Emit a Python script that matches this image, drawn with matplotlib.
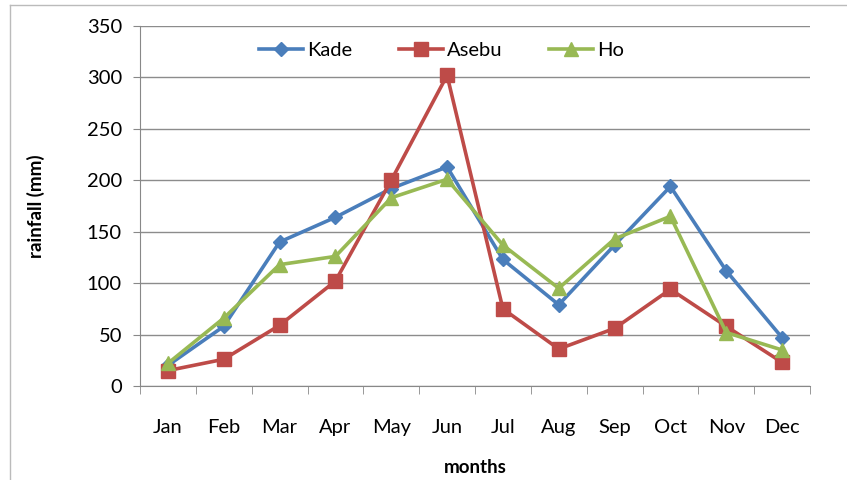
import matplotlib.pyplot as plt
import numpy as np

months = ['Jan', 'Feb', 'Mar', 'Apr', 'May', 'Jun', 'Jul', 'Aug', 'Sep', 'Oct', 'Nov', 'Dec']
kade = [20, 58, 140, 164, 192, 213, 123, 79, 137, 194, 112, 47]
asebu = [15, 26, 59, 102, 200, 302, 75, 36, 56, 94, 58, 23]
ho = [22, 66, 118, 126, 183, 201, 137, 95, 143, 165, 52, 35]

plt.rcParams['font.family'] = ['Lato', 'DejaVu Sans']

fig = plt.figure(figsize=(8.47, 4.8), dpi=100)
ax = fig.add_axes([140 / 847, 1 - 386 / 480, 670 / 847, 360 / 480])

x = np.arange(len(months))
ax.plot(x, kade, color='#4A7EBB', lw=2.6, marker='D', ms=7, label='Kade')
ax.plot(x, asebu, color='#BE4B48', lw=2.6, marker='s', ms=10, label='Asebu')
ax.plot(x, ho, color='#98B954', lw=2.6, marker='^', ms=10, label='Ho')

ax.set_xlim(-0.5, 11.5)
ax.set_ylim(0, 350)
ax.set_yticks(range(0, 351, 50))
ax.set_xticks(x)
ax.set_xticklabels(months)
ax.set_xticks(np.arange(-0.5, 12, 1), minor=True)
ax.tick_params(axis='x', which='major', length=0, pad=24, labelsize=14.5)
ax.tick_params(axis='x', which='minor', length=6, color='#888888', direction='out')
ax.tick_params(axis='y', length=5, color='#888888', labelsize=14.5, pad=8)

ax.yaxis.grid(True, color='#8c8c8c', lw=1)
ax.set_axisbelow(True)
for s in ['top', 'right']:
    ax.spines[s].set_visible(False)
for s in ['left', 'bottom']:
    ax.spines[s].set_color('#888888')

ax.set_ylabel('rainfall (mm)', fontsize=13.5, fontweight='bold', labelpad=30)
ax.set_xlabel('months', fontsize=13.5, fontweight='bold', labelpad=16)

ax.legend(loc='upper center', bbox_to_anchor=(0.45, 1.005), ncol=3, frameon=False,
          fontsize=14.5, handlelength=2.2, columnspacing=2.3, handletextpad=0.2)

# outer border of the picture
fig.add_artist(plt.Line2D([10 / 847, 10 / 847], [0, 1 - 5 / 480], color='#bbbbbb', lw=1))
fig.add_artist(plt.Line2D([10 / 847, 1], [1 - 5 / 480, 1 - 5 / 480], color='#bbbbbb', lw=1))

fig.savefig('out.png', dpi=100)
